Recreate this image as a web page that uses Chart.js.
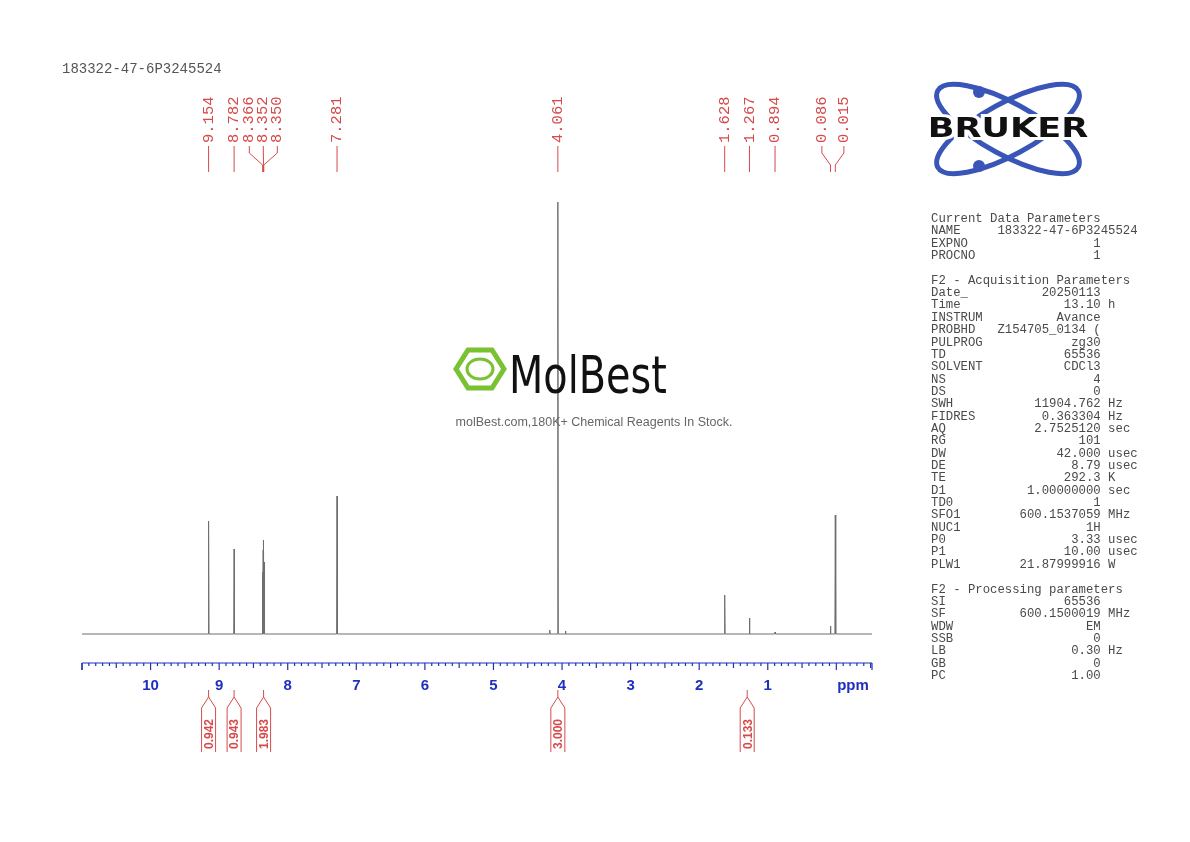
<!DOCTYPE html>
<html><head><meta charset="utf-8">
<script src="https://cdn.jsdelivr.net/npm/chart.js@4"></script>
<style>html,body{margin:0;padding:0;background:#fff}#c{display:block}</style>
</head><body>
<canvas id="c" width="1190" height="842"></canvas>
<script>
const titleText = "183322-47-6P3245524";
const peakPpm    = [9.154, 8.782, 8.366, 8.358, 8.352, 8.346, 8.338, 7.281, 4.180, 4.061, 3.950, 1.628, 1.267, 0.894, 0.086, 0.015];
const peakHeight = [113,   85,    62,    84,    94,    72,    50,    138,   4,     432,   3,     39,    16,    2,     8,     119];
const labelPpm   = ["9.154","8.782","8.366","8.352","8.350","7.281","4.061","1.628","1.267","0.894","0.086","0.015"];
const integralCenters = [9.154, 8.782, 8.352, 4.061, 1.300];
const integralValues  = ["0.942","0.943","1.983","3.000","0.133"];
const tickLabels = [10,9,8,7,6,5,4,3,2,1];
const paramLines = [
 ["Current Data Parameters","",""],["NAME","183322-47-6P3245524","",true],["EXPNO","1",""],["PROCNO","1",""],null,
 ["F2 - Acquisition Parameters","",""],["Date_","20250113",""],["Time","13.10","h"],["INSTRUM","Avance",""],
 ["PROBHD","Z154705_0134 (",""],["PULPROG","zg30",""],["TD","65536",""],["SOLVENT","CDCl3",""],["NS","4",""],["DS","0",""],
 ["SWH","11904.762","Hz"],["FIDRES","0.363304","Hz"],["AQ","2.7525120","sec"],["RG","101",""],["DW","42.000","usec"],
 ["DE","8.79","usec"],["TE","292.3","K"],["D1","1.00000000","sec"],["TD0","1",""],["SFO1","600.1537059","MHz"],
 ["NUC1","1H",""],["P0","3.33","usec"],["P1","10.00","usec"],["PLW1","21.87999916","W"],null,
 ["F2 - Processing parameters","",""],["SI","65536",""],["SF","600.1500019","MHz"],["WDW","EM",""],["SSB","0",""],
 ["LB","0.30","Hz"],["GB","0",""],["PC","1.00",""]
];
const X_MAX = 11.0, X_MIN = -0.52;

const pts = [{x:X_MAX,y:0}];
peakPpm.map((p,i)=>[p,peakHeight[i]]).sort((a,b)=>b[0]-a[0]).forEach(([p,h])=>{
  pts.push({x:p+0.006,y:0},{x:p,y:h},{x:p-0.006,y:0});
});
pts.push({x:X_MIN,y:0});

const RED='#d64a4a', BLUE='#1f2fbf';
const deco = {
  id:'deco',
  afterDraw(chart){
    const ctx=chart.ctx, xs=chart.scales.x, ca=chart.chartArea;
    ctx.save();
    ctx.fillStyle='#555'; ctx.font='14px "Liberation Mono", monospace'; ctx.textBaseline='alphabetic';
    ctx.fillText(titleText,62,73);
    // axis (ticks hang below the line)
    const ay=663;
    ctx.strokeStyle=BLUE; ctx.lineWidth=1.2;
    ctx.beginPath(); ctx.moveTo(ca.left,ay); ctx.lineTo(ca.right,ay); ctx.stroke();
    for(let k=-5;k<=110;k++){
      const v=k/10; if(v>X_MAX||v<X_MIN) continue;
      const px=xs.getPixelForValue(v);
      const len = (k%10===0)?7:(k%5===0?5:3);
      ctx.beginPath(); ctx.moveTo(px,ay); ctx.lineTo(px,ay+len); ctx.stroke();
    }
    ctx.beginPath(); ctx.moveTo(ca.left,ay); ctx.lineTo(ca.left,ay+7); ctx.moveTo(ca.right,ay); ctx.lineTo(ca.right,ay+7); ctx.stroke();
    ctx.fillStyle=BLUE; ctx.font='bold 15px "Liberation Sans", Arial, sans-serif'; ctx.textAlign='center'; ctx.textBaseline='middle';
    tickLabels.forEach(t=>ctx.fillText(String(t),xs.getPixelForValue(t),686));
    ctx.fillText('ppm',853,686);
    // peak labels
    const pp=labelPpm.map(s=>xs.getPixelForValue(parseFloat(s)));
    const gap=14, lx=pp.slice();
    let groups=[[0]];
    for(let i=1;i<pp.length;i++){ if(pp[i]-pp[i-1]<gap+2) groups[groups.length-1].push(i); else groups.push([i]); }
    groups.forEach(g=>{ const m=g.reduce((s,i)=>s+pp[i],0)/g.length; const gg=g.length===2?22:gap; g.forEach((i,j)=>lx[i]=m+(j-(g.length-1)/2)*gg); });
    ctx.strokeStyle=RED; ctx.lineWidth=1; ctx.fillStyle=RED;
    ctx.font='15.5px "Liberation Mono", monospace'; ctx.textAlign='left'; ctx.textBaseline='middle';
    labelPpm.forEach((s,i)=>{
      ctx.beginPath(); ctx.moveTo(lx[i],146); ctx.lineTo(lx[i],153); ctx.lineTo(pp[i],165); ctx.lineTo(pp[i],172); ctx.stroke();
      ctx.save(); ctx.translate(lx[i],143); ctx.rotate(-Math.PI/2); ctx.fillText(s,0,0); ctx.restore();
    });
    // integrals
    ctx.font='bold 12px "Liberation Sans", Arial, sans-serif'; ctx.textAlign='center';
    integralCenters.forEach((c,i)=>{
      const cx=xs.getPixelForValue(c), w=7;
      ctx.beginPath();
      ctx.moveTo(cx,690); ctx.lineTo(cx,697); ctx.lineTo(cx-w,708); ctx.lineTo(cx-w,752);
      ctx.moveTo(cx,697); ctx.lineTo(cx+w,708); ctx.lineTo(cx+w,752); ctx.stroke();
      ctx.save(); ctx.translate(cx,734); ctx.rotate(-Math.PI/2); ctx.fillText(integralValues[i],0,1); ctx.restore();
    });
    // params
    ctx.fillStyle='#4a4a4a'; ctx.font='12.3px "Liberation Mono", monospace'; ctx.textBaseline='alphabetic';
    const cw=7.38;
    paramLines.forEach((l,i)=>{
      if(!l) return; const y=222+12.35*i;
      ctx.textAlign='left'; ctx.fillText(l[0],931,y);
      if(l[3]){ ctx.fillText(l[1],931+9*cw,y); return; }
      if(l[1]){ ctx.textAlign='right'; ctx.fillText(l[1],931+23*cw,y); }
      if(l[2]){ ctx.textAlign='left'; ctx.fillText(l[2],931+24*cw,y); }
    });
    // Bruker logo
    ctx.strokeStyle='#3a55b8'; ctx.lineWidth=5;
    [0.5,-0.5].forEach(a=>{ctx.beginPath(); ctx.ellipse(1008,129,80,26,a,0,Math.PI*2); ctx.stroke();});
    ctx.fillStyle='#3a55b8';
    ctx.beginPath(); ctx.arc(979,92,6,0,7); ctx.fill();
    ctx.beginPath(); ctx.arc(979,166,6,0,7); ctx.fill();
    ctx.save(); ctx.translate(1008,130); ctx.scale(1.3,1);
    ctx.font='900 27px "DejaVu Sans", Arial, sans-serif'; ctx.textAlign='center'; ctx.textBaseline='middle';
    ctx.lineWidth=6; ctx.strokeStyle='#fff'; ctx.strokeText('BRUKER',0,0);
    ctx.fillStyle='#111'; ctx.fillText('BRUKER',0,0);
    ctx.restore();
    // MolBest watermark
    ctx.strokeStyle='#7ac232'; ctx.lineWidth=5;
    const hx=480,hy=369,r=24;
    ctx.beginPath();
    for(let k=0;k<6;k++){const a=Math.PI/3*k; ctx.lineTo(hx+r*Math.cos(a),hy+r*0.92*Math.sin(a));}
    ctx.closePath(); ctx.stroke();
    ctx.lineWidth=3; ctx.beginPath(); ctx.ellipse(hx,hy,13,10,0,0,7); ctx.stroke();
    ctx.fillStyle='#111'; ctx.font='52px "DejaVu Sans Condensed", "Liberation Sans Narrow", sans-serif';
    ctx.textAlign='left'; ctx.textBaseline='alphabetic';
    ctx.save(); ctx.translate(509,393); ctx.scale(0.85,1); ctx.fillText('MolBest',0,0); ctx.restore();
    ctx.fillStyle='#666'; ctx.font='12.5px "Liberation Sans", Arial, sans-serif'; ctx.textAlign='center';
    ctx.fillText('molBest.com,180K+ Chemical Reagents In Stock.',594,426);
    ctx.restore();
  }
};

new Chart(document.getElementById('c'),{
  type:'line',
  data:{datasets:[{data:pts,borderColor:'#6e6e6e',borderWidth:1,pointRadius:0,tension:0}]},
  options:{
    responsive:false,animation:false,
    layout:{padding:{left:82,right:318,top:190,bottom:179}},
    plugins:{legend:{display:false},tooltip:{enabled:false}},
    scales:{
      x:{type:'linear',reverse:true,min:X_MIN,max:X_MAX,display:false},
      y:{min:-29,max:444,display:false}
    }
  },
  plugins:[deco]
});
</script>
</body></html>
